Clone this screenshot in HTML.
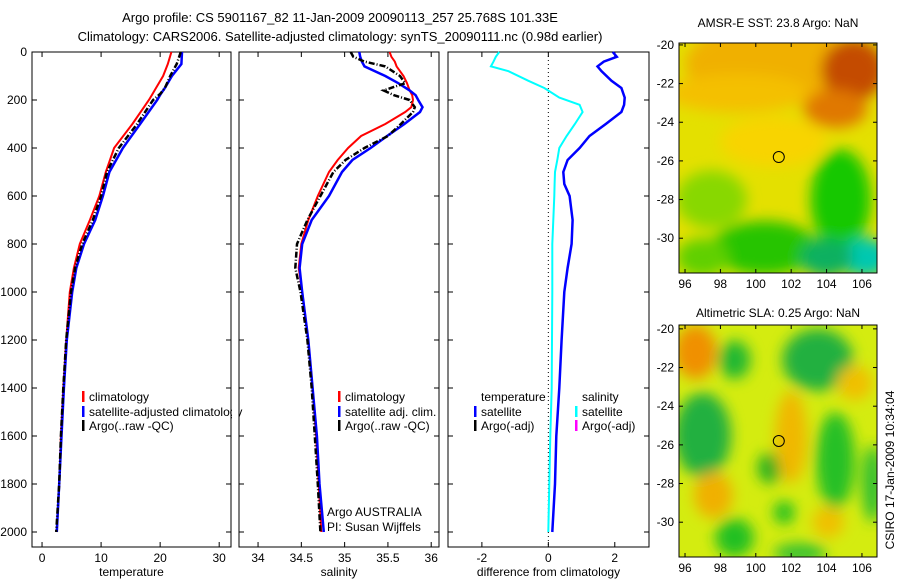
<!DOCTYPE html>
<html><head><meta charset="utf-8"><style>
body{margin:0;background:#fff;}
svg{display:block;font-family:"Liberation Sans",sans-serif;}
text{font-size:12px;fill:#000;}
</style></head><body>
<svg id="chart" width="900" height="580" xmlns="http://www.w3.org/2000/svg">
<defs>
<filter id="blr" x="-50%" y="-50%" width="200%" height="200%"><feGaussianBlur stdDeviation="7"/></filter>
<clipPath id="c1"><rect x="679" y="43" width="198" height="230"/></clipPath>
<clipPath id="c2"><rect x="679" y="325" width="198" height="232"/></clipPath>
</defs>
<text x="340" y="22" text-anchor="middle" style="font-size:13px">Argo profile: CS 5901167_82 11-Jan-2009 20090113_257 25.768S 101.33E</text>
<text x="340" y="41" text-anchor="middle" style="font-size:13px">Climatology: CARS2006. Satellite-adjusted climatology: synTS_20090111.nc (0.98d earlier)</text>
<text x="778" y="27" text-anchor="middle">AMSR-E SST: 23.8 Argo: NaN</text>
<text x="778" y="317" text-anchor="middle">Altimetric SLA: 0.25 Argo: NaN</text>
<text transform="translate(894,470) rotate(-90)" text-anchor="middle">CSIRO 17-Jan-2009 10:34:04</text>
<g id="plots"></g>
</svg>
<script>
const depthT = [0,50,100,150,175,200,300,400,500,600,700,800,900,1000,1200,1400,1600,1800,2000];
const tempClim = [21.9,21.3,20.5,19.3,18.7,18.1,15.3,12.2,10.8,9.7,8.1,6.4,5.4,4.7,4.1,3.6,3.2,2.9,2.5];
const tempSat  = [23.7,23.6,22.0,20.8,20.1,19.5,16.6,13.7,11.4,10.3,9.0,7.1,5.8,5.1,4.2,3.7,3.3,2.9,2.5];
const tempArgo = [23.5,22.8,21.7,20.8,20.0,18.8,16.1,13.0,11.0,10.0,8.6,6.8,5.6,4.9,4.1,3.6,3.2,2.9,2.4];
const depthS = [0,20,40,60,100,130,160,180,200,230,250,300,350,400,450,500,600,700,800,900,1000,1200,1400,1600,1800,2000];
const salClim = [35.52,35.54,35.58,35.60,35.68,35.72,35.75,35.78,35.79,35.77,35.70,35.47,35.19,35.04,34.92,34.82,34.69,34.58,34.50,34.47,34.51,34.58,34.63,34.67,34.70,34.73];
const salSat  = [35.17,35.18,35.20,35.23,35.47,35.62,35.75,35.82,35.85,35.90,35.87,35.69,35.49,35.30,35.09,34.97,34.82,34.62,34.51,34.48,34.51,34.58,34.63,34.68,34.71,34.76];
const salArgo = [35.07,35.10,35.23,35.47,35.64,35.70,35.45,35.57,35.75,35.81,35.79,35.65,35.50,35.23,35.01,34.87,34.72,34.57,34.45,34.43,34.49,34.57,34.62,34.655,34.69,34.72];
const depthD = [0,20,40,60,80,120,150,190,220,250,300,350,400,450,500,550,600,700,800,900,1000,1200,1400,1600,1800,2000];
const diffTempSat = [1.94,2.06,1.67,1.48,1.6,1.9,2.2,2.3,2.28,2.2,1.73,1.24,0.94,0.58,0.45,0.48,0.64,0.73,0.7,0.58,0.48,0.4,0.33,0.24,0.2,0.12];
const diffSalSat  = [-1.48,-1.58,-1.65,-1.73,-1.2,-0.6,-0.12,0.33,0.94,1.03,0.8,0.55,0.33,0.27,0.2,0.19,0.18,0.15,0.12,0.12,0.12,0.11,0.1,0.06,0.03,0.0];
const depthTicks = [0,200,400,600,800,1000,1200,1400,1600,1800,2000];
const tempTicks = [0,10,20,30];
const salTicks = [34,34.5,35,35.5,36];
const diffTicks = [-2,0,2];
const lonTicks = [96,98,100,102,104,106];
const latTicks = [-20,-22,-24,-26,-28,-30];
const argoLon = 101.3, argoLat = -25.8;

const NS='http://www.w3.org/2000/svg';
const root=document.getElementById('plots');
function el(t,a,p){const e=document.createElementNS(NS,t);for(const k in a)e.setAttribute(k,a[k]);(p||root).appendChild(e);return e;}
const yD=d=>52+0.24*d;

const panels=[
 {x0:32,x1:231,min:-1.7,max:32.0,ticks:tempTicks,label:'temperature',name:'temperature-panel'},
 {x0:239,x1:439,min:33.78,max:36.09,ticks:salTicks,label:'salinity',name:'salinity-panel'},
 {x0:448,x1:649,min:-3.02,max:3.03,ticks:diffTicks,label:'difference from climatology',name:'difference-panel'}];
panels.forEach(p=>{p.sx=v=>p.x0+(v-p.min)/(p.max-p.min)*(p.x1-p.x0);});

function axes(p,i){
  const g=el('g',{});
  
  
  el('rect',{x:p.x0,y:52,width:p.x1-p.x0,height:495,fill:'none',stroke:'#000','stroke-width':1},g);
  p.ticks.forEach(t=>{const x=p.sx(t);
    el('line',{x1:x,x2:x,y1:52,y2:57,stroke:'#000'},g);
    el('line',{x1:x,x2:x,y1:547,y2:542,stroke:'#000'},g);
    const tx=el('text',{x:x,y:562,'text-anchor':'middle'},g);tx.textContent=t;
    
    
  });
  depthTicks.forEach(d=>{const y=yD(d);
    el('line',{x1:p.x0,x2:p.x0+5,y1:y,y2:y,stroke:'#000'},g);
    el('line',{x1:p.x1,x2:p.x1-5,y1:y,y2:y,stroke:'#000'},g);
    if(i===0){const tx=el('text',{x:27,y:y+4,'text-anchor':'end'},g);tx.textContent=d;
      
      }
  });
  const xl=el('text',{x:(p.x0+p.x1)/2,y:576,'text-anchor':'middle'},g);xl.textContent=p.label;
  
  
}
panels.forEach(axes);

function line(p,depths,vals,color,w,dash,name){
  const pts=depths.map((d,k)=>p.sx(vals[k]).toFixed(1)+','+yD(d).toFixed(1)).join(' ');
  const l=el('polyline',{points:pts,fill:'none',stroke:color,'stroke-width':w});
  if(dash)l.setAttribute('stroke-dasharray',dash);
  
  
}
const z=panels[2].sx(0);
el('line',{x1:z,x2:z,y1:52,y2:547,stroke:'#000','stroke-dasharray':'1,3'});
line(panels[0],depthT,tempClim,'#f00',2,null,'temp-climatology-line');
line(panels[0],depthT,tempSat,'#00f',2.5,null,'temp-satellite-line');
line(panels[0],depthT,tempArgo,'#000',2.5,'6,2,1,2','temp-argo-line');
line(panels[1],depthS,salClim,'#f00',2,null,'sal-climatology-line');
line(panels[1],depthS,salSat,'#00f',2.5,null,'sal-satellite-line');
line(panels[1],depthS,salArgo,'#000',2.5,'6,2,1,2','sal-argo-line');
line(panels[2],depthD,diffSalSat,'#0ff',2,null,'diff-salinity-satellite-line');
line(panels[2],depthD,diffTempSat,'#00f',2.5,null,'diff-temperature-satellite-line');

function legend(items,name){
  const g=el('g',{});
  
  
  items.forEach(it=>{
    if(it.c)el('rect',{x:it.x-7,y:it.y-6,width:2.5,height:11,fill:it.c},g);
    const t=el('text',{x:it.x,y:it.y+4},g);t.textContent=it.t;
    
    
  });
}
legend([{x:89,y:397,c:'#f00',t:'climatology'},{x:89,y:412,c:'#00f',t:'satellite-adjusted climatology'},{x:89,y:426,c:'#000',t:'Argo(..raw -QC)'}],'temperature-legend');
legend([{x:345,y:397,c:'#f00',t:'climatology'},{x:345,y:412,c:'#00f',t:'satellite adj. clim.'},{x:345,y:426,c:'#000',t:'Argo(..raw -QC)'}],'salinity-legend');
legend([{x:481,y:397,t:'temperature'},{x:481,y:412,c:'#00f',t:'satellite'},{x:481,y:426,c:'#000',t:'Argo(-adj)'},
        {x:582,y:397,t:'salinity'},{x:582,y:412,c:'#0ff',t:'satellite'},{x:582,y:426,c:'#f0f',t:'Argo(-adj)'}],'difference-legend');
el('rect',{x:232,y:400,width:6.5,height:20,fill:'#fff'});
const a1=el('text',{x:327,y:516});a1.textContent='Argo AUSTRALIA';


const a2=el('text',{x:327,y:531});a2.textContent='PI: Susan Wijffels';



const sstBlobs=[[101,-21,5,2.2,'#f0b000'],[99,-22.5,4,1,'#f4c000'],[105.5,-21.3,1.8,1.6,'#c44c00'],[104.5,-23.3,1.8,1,'#e07800'],
 [101,-25,3,1.3,'#f8d400'],[104.8,-28,1.7,2.6,'#18c800'],[100.5,-30.5,3,1.4,'#28c400'],[97.5,-28,2,1.5,'#88d800'],
 [106.2,-31,1.4,1,'#00c8b0'],[104,-31,1.5,1,'#10b060'],[97,-31,1.5,1,'#60d000']];
const slaBlobs=[[96.6,-21.2,1.2,1.4,'#f09000'],[98.8,-21.6,0.9,1,'#20b830'],[103.5,-21.6,2,1.6,'#20b040'],[97,-25.5,1.6,2.2,'#20b040'],
 [104.5,-26.8,1.1,2.5,'#28c028'],[106.6,-28,0.6,2,'#30c030'],[100.8,-27.2,0.7,0.8,'#20b020'],[101.6,-29.5,0.6,0.6,'#20c020'],
 [98.8,-30.8,1.1,1,'#20c020'],[102,-25.6,0.9,2.4,'#f0b800'],[97.6,-28.6,1.1,1.2,'#f0b000'],[104.1,-30,0.9,0.8,'#f0c000'],
 [105.6,-22.8,1,0.9,'#f0c000'],[102.5,-31.6,1.5,0.5,'#30c030']];
function map(top,bottom,latTop,latBot,bg,blobs,clip,name){
  const sx=v=>679+(v-95.66)/(106.85-95.66)*198;
  const sy=v=>top+(latTop-v)/(latTop-latBot)*(bottom-top);
  const g=el('g',{});
  
  
  const img=el('g',{'clip-path':'url(#'+clip+')'},g);
  el('rect',{x:679,y:top,width:198,height:bottom-top,fill:bg},img);
  const bg2=el('g',{filter:'url(#blr)'},img);
  blobs.forEach(b=>{const e=el('ellipse',{cx:sx(b[0]),cy:sy(b[1]),rx:b[2]*17.7,ry:b[3]*19.3,fill:b[4]},bg2);
    
    });
  el('rect',{x:679,y:top,width:198,height:bottom-top,fill:'none',stroke:'#000'},g);
  lonTicks.forEach(t=>{const x=sx(t);
    el('line',{x1:x,x2:x,y1:top,y2:top+4,stroke:'#000'},g);
    el('line',{x1:x,x2:x,y1:bottom,y2:bottom-4,stroke:'#000'},g);
    const tx=el('text',{x:x,y:bottom+15,'text-anchor':'middle'},g);tx.textContent=t;
    
    });
  latTicks.forEach(t=>{const y=sy(t);
    el('line',{x1:679,x2:683,y1:y,y2:y,stroke:'#000'},g);
    el('line',{x1:877,x2:873,y1:y,y2:y,stroke:'#000'},g);
    const tx=el('text',{x:674,y:y+4,'text-anchor':'end'},g);tx.textContent=t;
    
    });
  const c=el('circle',{cx:sx(argoLon),cy:sy(argoLat),r:5.5,fill:'none',stroke:'#000'},g);
  
  
}
map(43,273,-19.9,-31.8,'#e4e000',sstBlobs,'c1','sst-map');
map(325,557,-19.8,-31.8,'#d4ec10',slaBlobs,'c2','sla-map');
</script>
</body></html>
